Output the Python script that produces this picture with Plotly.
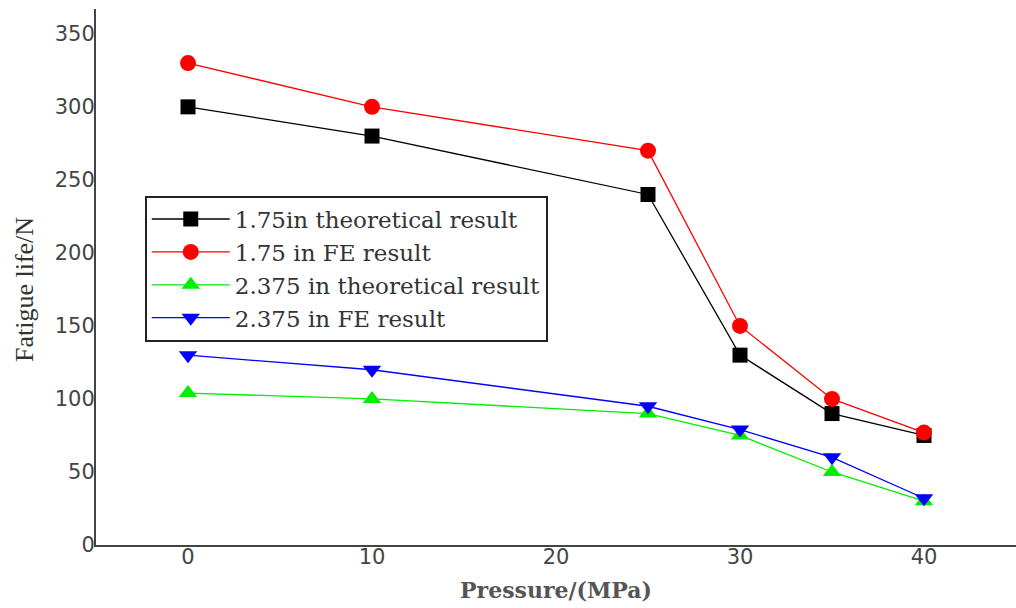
import plotly.graph_objects as go

pressure = [0, 10, 25, 30, 35, 40]
theo_175 = [300, 280, 240, 130, 90, 75]
fe_175 = [330, 300, 270, 150, 100, 77]
theo_2375 = [104, 100, 90, 75, 50, 30]
fe_2375 = [130, 120, 95, 79, 60, 32]

names = ["1.75in theoretical result", "1.75 in FE result",
         "2.375 in theoretical result", "2.375 in FE result"]
series = [theo_175, fe_175, theo_2375, fe_2375]
colors = ["#000000", "#ff0000", "#00ee00", "#0000ff"]
symbols = ["square", "circle", "triangle-up", "triangle-down"]
sizes = [15, 16, 16, 16]

x_ticks = [0, 10, 20, 30, 40]
y_ticks = [0, 50, 100, 150, 200, 250, 300, 350]

fig = go.Figure()
for n, s, c, sym, sz in zip(names, series, colors, symbols, sizes):
    fig.add_trace(go.Scatter(
        x=pressure, y=s, name=n, mode="lines+markers",
        line=dict(color=c, width=1.3),
        marker=dict(symbol=sym, size=sz, color=c, line=dict(width=0)),
    ))

fig.update_layout(
    width=1016, height=608,
    margin=dict(l=96, r=0, t=9, b=63),
    paper_bgcolor="white", plot_bgcolor="white",
    showlegend=True,
    legend=dict(
        x=0.053, y=0.652, xanchor="left", yanchor="top",
        bordercolor="#222", borderwidth=2, bgcolor="white",
        font=dict(family="DejaVu Serif", size=23, color="#333"),
        itemwidth=78, tracegroupgap=0,
    ),
    xaxis=dict(
        range=[-5, 45], tickvals=x_ticks, ticktext=[str(v) for v in x_ticks],
        showgrid=False, zeroline=False, showline=True, linecolor="#444", linewidth=2,
        ticks="", ticklabelstandoff=-8,
        tickfont=dict(family="DejaVu Sans", size=21, color="#444"),
        title=dict(text="<b>Pressure/(MPa)</b>", font=dict(family="DejaVu Serif", size=22, color="#555"), standoff=14),
    ),
    yaxis=dict(
        range=[0, 367], tickvals=y_ticks, ticktext=[str(v) for v in y_ticks],
        showgrid=False, zeroline=False, showline=True, linecolor="#444", linewidth=2,
        ticks="", ticklabelstandoff=-5,
        tickfont=dict(family="DejaVu Sans", size=21, color="#444"),
    ),
    annotations=[dict(
        text="Fatigue life/N", textangle=-90, showarrow=False,
        xref="paper", yref="paper", x=-0.077, y=0.476,
        xanchor="center", yanchor="middle",
        font=dict(family="Liberation Serif", size=26, color="#333"),
    )],
)

fig.write_html("out.html")
